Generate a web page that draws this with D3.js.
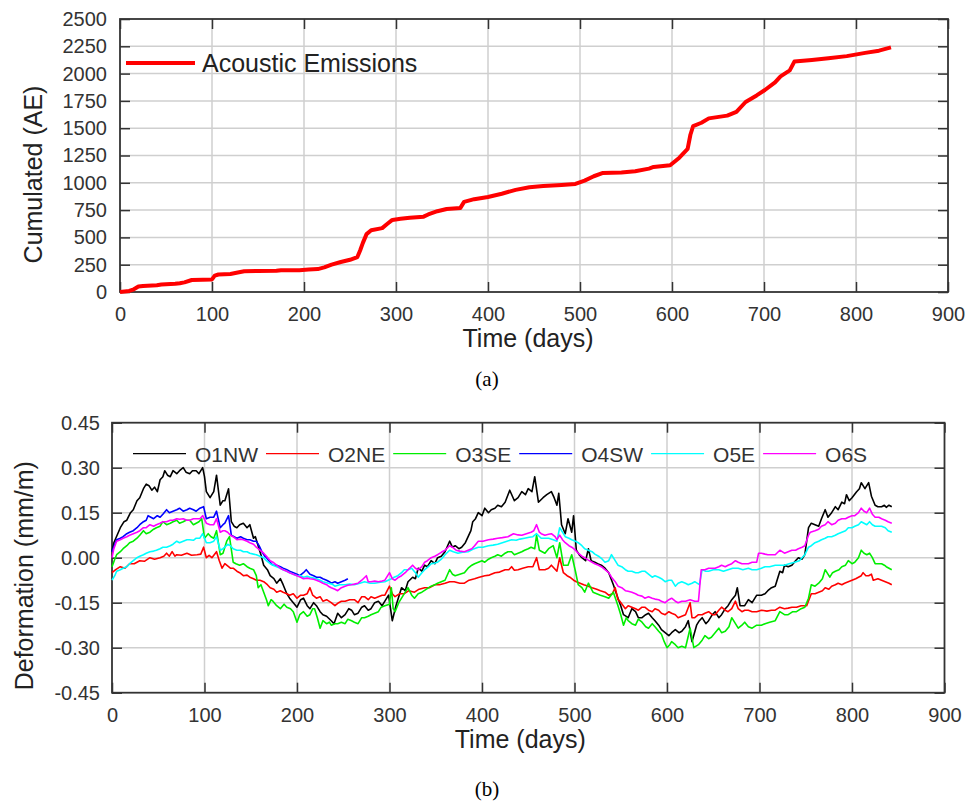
<!DOCTYPE html>
<html>
<head>
<meta charset="utf-8">
<script src="https://cdnjs.cloudflare.com/ajax/libs/d3/7.8.5/d3.min.js"></script>
<style>
  body { margin: 0; background: #fff; }
  text { font-family: "Liberation Sans", Arial, sans-serif; }
</style>
</head>
<body>
<div id="chart"></div>
<script>
// ---- data ----
const dayTicks = [0, 100, 200, 300, 400, 500, 600, 700, 800, 900];
const aeTicks = [0, 250, 500, 750, 1000, 1250, 1500, 1750, 2000, 2250, 2500];
const defTicks = [-0.45, -0.30, -0.15, 0, 0.15, 0.30, 0.45];

// cumulated acoustic emissions [day, count]
const acousticEmissions = [[0,0],[5,5],[10,10],[15,25],[20,50],[25,55],[40,62],[45,68],[60,75],[65,80],[70,88],[78,110],[90,112],[100,115],[103,150],[107,160],[120,165],[128,178],[135,190],[150,192],[170,195],[175,200],[195,200],[205,205],[215,210],[222,225],[230,250],[240,275],[250,295],[258,320],[261,380],[264,450],[268,530],[273,565],[285,585],[290,620],[296,660],[305,670],[315,680],[330,690],[335,710],[345,740],[355,760],[370,770],[374,825],[385,850],[400,870],[415,900],[430,935],[445,960],[460,970],[480,980],[495,990],[505,1020],[515,1060],[525,1090],[545,1095],[560,1105],[575,1130],[580,1145],[598,1160],[608,1230],[617,1310],[620,1440],[623,1520],[632,1550],[640,1590],[660,1615],[670,1650],[680,1740],[692,1800],[701,1850],[712,1920],[718,1975],[728,2030],[733,2110],[752,2125],[770,2140],[790,2160],[810,2190],[825,2210],[838,2240]];

const seriesNames = ['O1NW', 'O2NE', 'O3SE', 'O4SW', 'O5E', 'O6S'];
const seriesColors = ['#000000', '#ff0000', '#00ee00', '#0000ff', '#00ffff', '#ff00ff'];

const o1nw = [[0,0.02],[2,0.05],[9,0.10],[13,0.12],[16,0.125],[20,0.15],[23,0.16],[27,0.19],[30,0.20],[34,0.23],[37,0.245],[40,0.24],[43,0.225],[46,0.235],[49,0.22],[52,0.26],[55,0.27],[57,0.29],[60,0.275],[63,0.27],[66,0.29],[70,0.28],[73,0.29],[77,0.30],[80,0.285],[84,0.28],[87,0.29],[91,0.29],[94,0.28],[98,0.30],[100,0.27],[102,0.22],[106,0.20],[110,0.22],[113,0.275],[117,0.175],[120,0.19],[122,0.19],[126,0.23],[129,0.12],[132,0.105],[135,0.10],[138,0.11],[142,0.115],[146,0.10],[149,0.11],[153,0.065],[155,0.07],[158,0.04],[161,0.01],[164,-0.025],[168,-0.04],[171,-0.06],[175,-0.07],[178,-0.085],[182,-0.07],[185,-0.09],[189,-0.12],[192,-0.135],[196,-0.15],[200,-0.165],[204,-0.14],[207,-0.135],[211,-0.16],[214,-0.17],[218,-0.15],[221,-0.16],[225,-0.18],[228,-0.19],[232,-0.195],[237,-0.21],[240,-0.22],[244,-0.185],[248,-0.2],[252,-0.19],[256,-0.17],[259,-0.175],[262,-0.19],[266,-0.185],[270,-0.165],[273,-0.16],[277,-0.175],[280,-0.17],[284,-0.15],[288,-0.145],[292,-0.16],[295,-0.145],[299,-0.125],[303,-0.21],[307,-0.16],[310,-0.13],[313,-0.10],[317,-0.11],[320,-0.08],[325,-0.065],[328,-0.07],[331,-0.035],[335,-0.045],[338,-0.025],[341,-0.03],[345,-0.01],[349,-0.02],[352,0.0],[356,0.005],[360,0.02],[365,0.055],[368,0.035],[371,0.04],[375,0.03],[378,0.035],[382,0.05],[385,0.07],[388,0.09],[390,0.12],[393,0.13],[396,0.15],[400,0.14],[403,0.165],[407,0.15],[410,0.16],[414,0.165],[417,0.175],[421,0.17],[425,0.185],[430,0.225],[435,0.19],[439,0.2],[443,0.22],[447,0.21],[450,0.23],[454,0.22],[457,0.27],[461,0.185],[466,0.2],[470,0.21],[475,0.22],[478,0.2],[481,0.175],[483,0.215],[486,0.11],[490,0.08],[493,0.13],[497,0.085],[499,0.14],[502,0.025],[505,0.01],[508,0.0],[512,-0.01],[515,0.03],[518,-0.01],[522,-0.015],[525,-0.02],[529,-0.025],[533,-0.035],[537,-0.05],[542,-0.09],[547,-0.135],[550,-0.16],[553,-0.19],[558,-0.20],[562,-0.17],[566,-0.18],[569,-0.2],[573,-0.20],[577,-0.19],[580,-0.185],[584,-0.2],[587,-0.21],[591,-0.225],[594,-0.24],[598,-0.25],[602,-0.26],[605,-0.25],[609,-0.24],[613,-0.25],[616,-0.245],[620,-0.23],[623,-0.21],[627,-0.28],[632,-0.225],[635,-0.21],[638,-0.20],[642,-0.22],[645,-0.21],[649,-0.19],[652,-0.18],[656,-0.2],[659,-0.19],[663,-0.17],[666,-0.16],[670,-0.14],[674,-0.125],[676,-0.10],[679,-0.16],[684,-0.16],[688,-0.14],[692,-0.15],[697,-0.125],[702,-0.125],[706,-0.12],[709,-0.11],[713,-0.10],[717,-0.095],[722,-0.045],[725,-0.05],[727,-0.025],[731,-0.03],[735,-0.025],[739,-0.01],[742,0.0],[746,-0.005],[749,0.01],[753,0.10],[756,0.115],[760,0.11],[764,0.105],[767,0.13],[771,0.16],[774,0.135],[778,0.15],[782,0.17],[785,0.16],[789,0.185],[792,0.18],[794,0.21],[797,0.19],[800,0.20],[805,0.22],[808,0.23],[810,0.25],[814,0.23],[818,0.25],[821,0.205],[825,0.175],[828,0.17],[832,0.17],[835,0.175],[837,0.168],[840,0.175],[843,0.17]];

const o2ne = [[0,-0.05],[4,-0.04],[9,-0.03],[14,-0.035],[19,-0.02],[24,-0.02],[30,-0.01],[35,-0.012],[41,0.0],[46,-0.005],[52,0.0],[56,0.005],[59,0.015],[62,0.005],[65,0.02],[68,0.005],[70,0.01],[75,0.008],[81,0.015],[86,0.008],[92,0.01],[96,0.012],[99,0.035],[102,0.0],[105,0.008],[108,0.0],[113,0.02],[116,-0.01],[119,-0.035],[122,-0.02],[124,-0.025],[128,-0.035],[131,-0.035],[135,-0.045],[138,-0.05],[142,-0.06],[146,-0.058],[149,-0.065],[153,-0.07],[156,-0.075],[160,-0.075],[164,-0.08],[168,-0.09],[171,-0.10],[175,-0.105],[178,-0.115],[182,-0.11],[185,-0.115],[189,-0.12],[192,-0.125],[196,-0.12],[200,-0.135],[204,-0.125],[207,-0.125],[211,-0.12],[214,-0.10],[217,-0.125],[221,-0.135],[225,-0.13],[228,-0.145],[232,-0.14],[237,-0.15],[241,-0.16],[245,-0.15],[248,-0.145],[252,-0.145],[257,-0.14],[262,-0.14],[266,-0.15],[270,-0.13],[273,-0.13],[277,-0.14],[280,-0.13],[284,-0.135],[288,-0.13],[292,-0.125],[295,-0.125],[300,-0.095],[303,-0.12],[306,-0.13],[311,-0.12],[316,-0.12],[321,-0.11],[327,-0.115],[332,-0.105],[338,-0.10],[343,-0.1],[349,-0.09],[354,-0.09],[360,-0.085],[365,-0.08],[370,-0.08],[376,-0.085],[381,-0.085],[386,-0.075],[392,-0.07],[397,-0.065],[403,-0.06],[408,-0.058],[414,-0.05],[419,-0.048],[425,-0.04],[429,-0.04],[432,-0.03],[435,-0.042],[439,-0.04],[444,-0.035],[450,-0.03],[455,-0.03],[459,0.0],[462,-0.04],[468,-0.04],[472,-0.035],[475,-0.025],[481,-0.045],[484,0.0],[488,-0.05],[492,-0.06],[495,-0.065],[499,-0.075],[502,-0.08],[506,-0.085],[510,-0.09],[515,-0.095],[519,-0.10],[524,-0.105],[528,-0.11],[533,-0.115],[537,-0.125],[541,-0.12],[544,-0.10],[547,-0.14],[549,-0.145],[555,-0.17],[558,-0.16],[562,-0.165],[566,-0.17],[569,-0.175],[573,-0.165],[576,-0.165],[580,-0.175],[584,-0.18],[587,-0.17],[591,-0.175],[594,-0.185],[598,-0.19],[602,-0.18],[605,-0.185],[609,-0.19],[612,-0.20],[616,-0.195],[620,-0.19],[625,-0.15],[627,-0.2],[630,-0.20],[634,-0.19],[638,-0.19],[641,-0.185],[645,-0.18],[649,-0.19],[652,-0.19],[656,-0.175],[659,-0.165],[663,-0.175],[666,-0.18],[670,-0.17],[674,-0.145],[677,-0.17],[681,-0.18],[684,-0.175],[688,-0.175],[692,-0.18],[697,-0.18],[702,-0.175],[708,-0.178],[713,-0.175],[717,-0.175],[722,-0.165],[727,-0.17],[731,-0.168],[735,-0.165],[740,-0.165],[745,-0.16],[751,-0.16],[756,-0.12],[760,-0.12],[764,-0.115],[768,-0.11],[771,-0.10],[775,-0.105],[778,-0.095],[782,-0.09],[785,-0.085],[789,-0.09],[792,-0.085],[796,-0.08],[800,-0.075],[804,-0.07],[807,-0.065],[810,-0.06],[812,-0.05],[815,-0.06],[818,-0.06],[821,-0.055],[823,-0.075],[828,-0.07],[832,-0.075],[836,-0.08],[840,-0.085],[843,-0.09]];

const o3se = [[0,-0.03],[3,-0.005],[5,0.01],[9,0.02],[12,0.03],[16,0.04],[19,0.05],[23,0.055],[27,0.065],[30,0.075],[34,0.09],[37,0.08],[41,0.085],[45,0.095],[48,0.10],[52,0.105],[55,0.12],[59,0.11],[63,0.115],[66,0.12],[70,0.125],[73,0.115],[77,0.12],[80,0.125],[84,0.125],[88,0.11],[91,0.115],[94,0.12],[97,0.13],[100,0.065],[104,0.08],[107,0.07],[110,0.065],[113,0.09],[117,0.01],[120,0.015],[124,0.055],[127,0.07],[131,-0.015],[134,-0.02],[138,-0.025],[142,-0.02],[146,-0.03],[149,-0.035],[153,-0.04],[156,-0.06],[158,-0.10],[161,-0.09],[164,-0.115],[167,-0.14],[169,-0.16],[172,-0.14],[174,-0.145],[178,-0.16],[182,-0.17],[186,-0.155],[189,-0.165],[193,-0.17],[196,-0.18],[200,-0.215],[203,-0.19],[207,-0.18],[211,-0.195],[214,-0.19],[217,-0.17],[219,-0.17],[222,-0.2],[225,-0.235],[228,-0.21],[232,-0.22],[235,-0.215],[237,-0.225],[241,-0.22],[244,-0.22],[248,-0.215],[252,-0.22],[255,-0.205],[259,-0.21],[262,-0.215],[266,-0.22],[270,-0.2],[273,-0.20],[277,-0.195],[280,-0.19],[284,-0.185],[288,-0.18],[291,-0.165],[295,-0.16],[300,-0.155],[302,-0.10],[304,-0.17],[306,-0.18],[310,-0.15],[313,-0.135],[317,-0.115],[320,-0.10],[324,-0.125],[327,-0.135],[331,-0.12],[335,-0.115],[340,-0.105],[345,-0.095],[349,-0.09],[352,-0.085],[356,-0.08],[360,-0.075],[365,-0.04],[368,-0.055],[371,-0.06],[376,-0.055],[381,-0.05],[385,-0.035],[389,-0.025],[392,-0.02],[396,-0.015],[400,-0.01],[403,-0.015],[407,-0.005],[410,0.0],[414,0.005],[417,0.01],[421,0.005],[425,0.015],[428,0.02],[432,0.02],[435,0.01],[439,0.015],[443,0.02],[446,0.025],[450,0.03],[453,0.035],[457,0.03],[459,0.075],[462,0.025],[468,0.015],[472,0.03],[477,0.04],[481,0.0],[484,0.05],[488,-0.025],[493,-0.025],[497,0.01],[501,-0.045],[504,-0.09],[508,-0.10],[511,-0.115],[515,-0.085],[520,-0.115],[524,-0.12],[528,-0.125],[533,-0.13],[537,-0.135],[542,-0.115],[547,-0.16],[550,-0.19],[553,-0.225],[556,-0.2],[558,-0.21],[562,-0.22],[566,-0.225],[569,-0.205],[573,-0.215],[577,-0.23],[580,-0.235],[584,-0.22],[587,-0.23],[591,-0.245],[594,-0.255],[597,-0.28],[600,-0.30],[603,-0.29],[605,-0.28],[609,-0.29],[612,-0.30],[616,-0.295],[620,-0.30],[625,-0.235],[629,-0.30],[634,-0.29],[638,-0.275],[641,-0.26],[645,-0.27],[648,-0.265],[652,-0.25],[656,-0.235],[659,-0.25],[663,-0.245],[667,-0.23],[670,-0.20],[674,-0.22],[677,-0.235],[681,-0.225],[684,-0.215],[688,-0.23],[692,-0.235],[697,-0.225],[702,-0.225],[706,-0.22],[711,-0.215],[717,-0.21],[722,-0.18],[727,-0.19],[731,-0.19],[736,-0.18],[740,-0.18],[745,-0.17],[749,-0.165],[753,-0.135],[756,-0.09],[760,-0.095],[764,-0.085],[768,-0.07],[771,-0.04],[774,-0.055],[776,-0.065],[779,-0.05],[782,-0.045],[786,-0.04],[789,-0.03],[793,-0.025],[796,-0.01],[800,-0.02],[803,-0.015],[807,0.0],[810,0.025],[813,0.015],[816,0.01],[819,0.015],[822,0.0],[825,-0.02],[829,-0.02],[832,-0.02],[835,-0.025],[837,-0.03],[840,-0.035],[843,-0.04]];

const o4sw = [[0,0.02],[3,0.045],[5,0.06],[9,0.065],[12,0.07],[16,0.08],[19,0.085],[23,0.09],[27,0.10],[30,0.11],[34,0.12],[37,0.125],[39,0.14],[42,0.135],[45,0.13],[49,0.14],[52,0.135],[55,0.145],[59,0.16],[62,0.15],[66,0.155],[70,0.16],[73,0.165],[77,0.155],[81,0.16],[84,0.165],[88,0.16],[91,0.155],[95,0.165],[99,0.17],[102,0.13],[106,0.135],[110,0.135],[113,0.155],[117,0.10],[120,0.11],[122,0.115],[126,0.14],[129,0.075],[132,0.07],[135,0.065],[139,0.07],[142,0.065],[146,0.06],[149,0.06],[153,0.055],[156,0.055],[159,0.04],[162,0.02],[165,0.005],[167,0.0],[171,-0.015],[174,-0.025],[178,-0.025],[182,-0.03],[185,-0.035],[189,-0.04],[192,-0.045],[196,-0.05],[200,-0.055],[203,-0.06],[207,-0.05],[210,-0.04],[214,-0.055],[218,-0.06],[221,-0.065],[225,-0.065],[228,-0.07],[232,-0.075],[235,-0.08],[237,-0.085],[241,-0.08],[244,-0.085],[248,-0.08],[252,-0.075],[255,-0.07]];

const o5e = [[0,-0.075],[3,-0.06],[5,-0.045],[9,-0.04],[12,-0.035],[16,-0.03],[19,-0.02],[23,-0.01],[27,0.0],[30,0.005],[34,0.01],[37,0.015],[41,0.02],[45,0.022],[48,0.025],[52,0.03],[55,0.035],[59,0.035],[63,0.04],[66,0.045],[70,0.055],[73,0.05],[77,0.055],[81,0.06],[84,0.06],[88,0.058],[91,0.065],[95,0.065],[98,0.08],[102,0.05],[106,0.05],[110,0.055],[113,0.07],[117,0.025],[120,0.03],[122,0.035],[125,0.045],[128,0.04],[131,0.03],[135,0.025],[139,0.025],[142,0.02],[146,0.02],[149,0.015],[153,0.012],[156,0.01],[160,0.005],[164,0.0],[167,-0.01],[171,-0.02],[174,-0.025],[178,-0.03],[182,-0.035],[185,-0.04],[189,-0.045],[192,-0.05],[196,-0.055],[200,-0.06],[204,-0.06],[207,-0.065],[211,-0.062],[214,-0.065],[218,-0.068],[221,-0.07],[225,-0.075],[228,-0.08],[234,-0.085],[238,-0.088],[241,-0.095],[246,-0.09],[252,-0.09],[257,-0.088],[262,-0.09],[268,-0.085],[273,-0.08],[279,-0.085],[284,-0.085],[290,-0.082],[295,-0.08],[302,-0.07],[305,-0.065],[309,-0.06],[313,-0.05],[316,-0.04],[320,-0.04],[324,-0.035],[328,-0.05],[331,-0.065],[335,-0.05],[338,-0.04],[342,-0.03],[345,-0.02],[349,-0.018],[352,-0.015],[356,-0.005],[360,0.01],[365,0.025],[369,0.02],[374,0.015],[379,0.018],[385,0.02],[390,0.028],[396,0.035],[401,0.035],[407,0.04],[412,0.042],[417,0.045],[422,0.05],[427,0.055],[432,0.06],[437,0.058],[441,0.062],[446,0.065],[451,0.068],[455,0.07],[459,0.08],[464,0.065],[468,0.065],[472,0.065],[477,0.06],[481,0.055],[484,0.10],[486,0.09],[490,0.07],[494,0.065],[497,0.06],[501,0.055],[504,0.05],[508,0.04],[511,0.03],[515,0.025],[519,0.02],[522,0.012],[526,0.005],[530,-0.005],[533,-0.015],[537,-0.01],[540,0.01],[544,-0.01],[547,-0.025],[551,-0.03],[555,-0.04],[558,-0.045],[562,-0.045],[566,-0.05],[569,-0.05],[573,-0.045],[576,-0.045],[580,-0.055],[584,-0.065],[587,-0.06],[591,-0.065],[594,-0.07],[598,-0.08],[602,-0.075],[605,-0.075],[609,-0.095],[612,-0.085],[616,-0.08],[620,-0.085],[623,-0.09],[627,-0.085],[630,-0.08],[635,-0.09],[638,-0.04],[642,-0.045],[645,-0.045],[650,-0.04],[656,-0.04],[661,-0.045],[666,-0.04],[671,-0.035],[677,-0.035],[682,-0.04],[688,-0.035],[692,-0.04],[697,-0.04],[702,-0.035],[706,-0.03],[711,-0.03],[717,-0.025],[722,-0.025],[727,-0.025],[732,-0.02],[738,-0.015],[743,-0.01],[749,0.01],[753,0.035],[756,0.04],[760,0.05],[764,0.055],[767,0.06],[771,0.065],[774,0.07],[778,0.07],[782,0.075],[785,0.08],[789,0.085],[793,0.09],[796,0.10],[800,0.10],[803,0.105],[807,0.11],[810,0.12],[813,0.115],[816,0.11],[819,0.12],[822,0.11],[825,0.105],[829,0.105],[832,0.105],[836,0.1],[839,0.09],[843,0.085]];

const o6s = [[0,0.0],[2,0.03],[5,0.055],[9,0.06],[12,0.065],[16,0.07],[19,0.075],[23,0.08],[27,0.085],[30,0.09],[34,0.10],[37,0.10],[41,0.11],[45,0.105],[48,0.11],[52,0.115],[55,0.12],[59,0.12],[63,0.125],[66,0.125],[70,0.13],[73,0.128],[77,0.13],[81,0.125],[84,0.125],[88,0.13],[91,0.13],[95,0.13],[98,0.14],[102,0.115],[106,0.11],[110,0.11],[113,0.13],[117,0.085],[120,0.09],[122,0.09],[125,0.085],[128,0.075],[131,0.07],[135,0.06],[139,0.062],[142,0.06],[146,0.055],[149,0.05],[153,0.045],[156,0.035],[160,0.025],[164,0.015],[167,0.005],[171,-0.01],[174,-0.015],[178,-0.025],[182,-0.035],[185,-0.04],[189,-0.045],[192,-0.05],[196,-0.055],[200,-0.06],[204,-0.065],[207,-0.07],[211,-0.068],[214,-0.07],[218,-0.072],[221,-0.075],[225,-0.08],[228,-0.085],[232,-0.09],[234,-0.095],[237,-0.10],[241,-0.105],[244,-0.11],[248,-0.10],[252,-0.095],[255,-0.092],[259,-0.09],[262,-0.088],[266,-0.085],[270,-0.075],[275,-0.06],[277,-0.08],[280,-0.08],[284,-0.078],[288,-0.08],[292,-0.078],[295,-0.075],[300,-0.05],[303,-0.07],[306,-0.075],[310,-0.065],[313,-0.06],[317,-0.05],[320,-0.04],[325,-0.025],[328,-0.035],[331,-0.04],[335,-0.03],[338,-0.015],[341,-0.01],[345,0.0],[349,0.005],[352,0.01],[356,0.018],[360,0.025],[365,0.04],[368,0.035],[372,0.025],[376,0.022],[381,0.02],[385,0.025],[389,0.03],[392,0.04],[396,0.055],[401,0.055],[407,0.06],[412,0.062],[417,0.065],[422,0.067],[428,0.07],[431,0.075],[434,0.08],[439,0.076],[443,0.075],[448,0.08],[453,0.085],[456,0.09],[459,0.11],[462,0.085],[464,0.08],[468,0.075],[472,0.078],[475,0.08],[479,0.07],[481,0.06],[484,0.075],[487,0.06],[490,0.05],[494,0.04],[497,0.035],[501,0.025],[504,0.015],[508,0.005],[511,0.0],[515,-0.008],[519,-0.015],[522,-0.02],[526,-0.025],[530,-0.032],[533,-0.04],[537,-0.05],[540,-0.065],[544,-0.08],[547,-0.095],[551,-0.10],[555,-0.11],[558,-0.112],[562,-0.115],[566,-0.12],[569,-0.125],[573,-0.128],[576,-0.135],[580,-0.13],[584,-0.135],[587,-0.138],[591,-0.14],[594,-0.145],[598,-0.15],[602,-0.14],[605,-0.135],[609,-0.145],[612,-0.15],[616,-0.145],[620,-0.145],[625,-0.14],[630,-0.145],[634,-0.145],[637,-0.04],[641,-0.04],[645,-0.035],[649,-0.035],[652,-0.035],[656,-0.03],[659,-0.025],[663,-0.03],[666,-0.025],[670,-0.02],[674,-0.01],[677,-0.015],[681,-0.02],[684,-0.02],[688,-0.02],[692,-0.015],[697,-0.015],[699,0.015],[702,0.015],[706,0.012],[709,0.01],[713,0.01],[717,0.01],[722,0.025],[727,0.015],[731,0.02],[735,0.025],[739,0.025],[742,0.03],[746,0.035],[749,0.04],[753,0.075],[755,0.085],[760,0.09],[764,0.095],[767,0.105],[771,0.11],[774,0.12],[778,0.11],[782,0.115],[785,0.125],[789,0.13],[793,0.13],[796,0.135],[800,0.14],[803,0.14],[807,0.15],[810,0.165],[813,0.155],[816,0.15],[819,0.165],[822,0.145],[825,0.135],[829,0.135],[832,0.13],[836,0.125],[839,0.12],[843,0.115]];

const deformation = [o1nw, o2ne, o3se, o4sw, o5e, o6s];

// ---- drawing ----
const W = 973, H = 802;
const svg = d3.select('#chart').append('svg')
    .attr('width', W)
    .attr('height', H);

// grid, inward ticks on all four sides, frame
function drawFrame(g, x, y, xTicks, yTicks, yFormat, labelPad) {
    let w = x.range()[1], h = y.range()[0];

    g.append('g').selectAll('line.vgrid')
        .data(xTicks.slice(1, -1))
        .enter().append('line')
        .attr('x1', d => x(d)).attr('x2', d => x(d))
        .attr('y1', 0).attr('y2', h)
        .attr('stroke', '#cfcfcf').attr('stroke-width', 1.5);
    g.append('g').selectAll('line.hgrid')
        .data(yTicks.slice(1, -1))
        .enter().append('line')
        .attr('x1', 0).attr('x2', w)
        .attr('y1', d => y(d)).attr('y2', d => y(d))
        .attr('stroke', '#cfcfcf').attr('stroke-width', 1.5);

    let xAxis = d3.axisBottom(x).tickValues(xTicks).tickSize(-10).tickPadding(15);
    let yAxis = d3.axisLeft(y).tickValues(yTicks).tickSize(-10).tickPadding(labelPad).tickFormat(yFormat);

    g.append('g').attr('class', 'x axis')
        .attr('transform', 'translate(0,' + h + ')')
        .call(xAxis);
    g.append('g').attr('class', 'x axis top')
        .call(d3.axisTop(x).tickValues(xTicks).tickSize(-10).tickFormat(''));
    g.append('g').attr('class', 'y axis')
        .call(yAxis);
    g.append('g').attr('class', 'y axis right')
        .attr('transform', 'translate(' + w + ',0)')
        .call(d3.axisRight(y).tickValues(yTicks).tickSize(-10).tickFormat(''));

    g.selectAll('.axis .domain').remove();
    g.selectAll('.axis line').attr('stroke', '#333').attr('stroke-width', 1.5);
    g.selectAll('.axis text')
        .attr('fill', '#333')
        .style('font-size', '20px')
        .style('font-family', '"Liberation Sans", Arial, sans-serif');

    g.append('rect')
        .attr('width', w).attr('height', h)
        .attr('fill', 'none')
        .attr('stroke', '#333').attr('stroke-width', 1.8);
}

// ---- panel (a) ----
let aMargin = { left: 120, top: 19 },
    aWidth = 828, aHeight = 273;
let xa = d3.scaleLinear().domain([0, 900]).range([0, aWidth]);
let ya = d3.scaleLinear().domain([0, 2500]).range([aHeight, 0]);
let ga = svg.append('g').attr('transform', 'translate(' + aMargin.left + ',' + aMargin.top + ')');

drawFrame(ga, xa, ya, dayTicks, aeTicks, d3.format('d'), 13);

ga.append('path')
    .datum(acousticEmissions)
    .attr('fill', 'none')
    .attr('stroke', '#ff0000')
    .attr('stroke-width', 4)
    .attr('stroke-linejoin', 'round')
    .attr('d', d3.line().x(d => xa(d[0])).y(d => ya(d[1])));

// legend
ga.append('line')
    .attr('x1', 6).attr('x2', 75).attr('y1', 44).attr('y2', 44)
    .attr('stroke', '#ff0000').attr('stroke-width', 4);
ga.append('text')
    .attr('x', 82).attr('y', 53)
    .attr('fill', '#222')
    .style('font-size', '25px')
    .text('Acoustic Emissions');

ga.append('text')
    .attr('x', aWidth * 0.5 - 6).attr('y', 328)
    .attr('text-anchor', 'middle')
    .attr('fill', '#222')
    .style('font-size', '25px')
    .text('Time (days)');
ga.append('text')
    .attr('transform', 'translate(-78,' + (aHeight / 2 + 19) + ') rotate(-90)')
    .attr('text-anchor', 'middle')
    .attr('fill', '#222')
    .style('font-size', '25px')
    .text('Cumulated (AE)');

svg.append('text')
    .attr('x', 487).attr('y', 386)
    .attr('text-anchor', 'middle')
    .style('font-family', '"Liberation Serif", "Times New Roman", serif')
    .style('font-size', '21px')
    .text('(a)');

// ---- panel (b) ----
let bMargin = { left: 112, top: 422.7 },
    bWidth = 832.5, bHeight = 270;
let xb = d3.scaleLinear().domain([0, 900]).range([0, bWidth]);
let yb = d3.scaleLinear().domain([-0.45, 0.45]).range([bHeight, 0]);
let gb = svg.append('g').attr('transform', 'translate(' + bMargin.left + ',' + bMargin.top + ')');

// plain hyphen for negatives, as in the figure
drawFrame(gb, xb, yb, dayTicks, defTicks, d => d.toFixed(2), 12);

let defLine = d3.line().x(d => xb(d[0])).y(d => yb(d[1]));
gb.selectAll('.series')
    .data(deformation)
    .enter().append('path')
    .attr('class', 'series')
    .attr('fill', 'none')
    .attr('stroke', (d, i) => seriesColors[i])
    .attr('stroke-width', 1.6)
    .attr('stroke-linejoin', 'round')
    .attr('d', defLine);

// legend row
let lx = 21;
seriesNames.forEach(function(name, i) {
    gb.append('line')
        .attr('x1', lx).attr('x2', lx + 53)
        .attr('y1', 31).attr('y2', 31)
        .attr('stroke', seriesColors[i]).attr('stroke-width', 1.3);
    let t = gb.append('text')
        .attr('x', lx + 62).attr('y', 39.5)
        .attr('fill', '#333')
        .style('font-size', '21px')
        .text(name);
    lx += 62 + t.node().getComputedTextLength() + 8;
});

gb.append('text')
    .attr('x', bWidth * 0.5 - 8).attr('y', 325)
    .attr('text-anchor', 'middle')
    .attr('fill', '#222')
    .style('font-size', '25px')
    .text('Time (days)');
gb.append('text')
    .attr('transform', 'translate(-79,' + (bHeight / 2 + 18) + ') rotate(-90)')
    .attr('text-anchor', 'middle')
    .attr('fill', '#222')
    .style('font-size', '25px')
    .text('Deformation (mm/m)');

svg.append('text')
    .attr('x', 487).attr('y', 796)
    .attr('text-anchor', 'middle')
    .style('font-family', '"Liberation Serif", "Times New Roman", serif')
    .style('font-size', '21px')
    .text('(b)');
</script>
</body>
</html>
